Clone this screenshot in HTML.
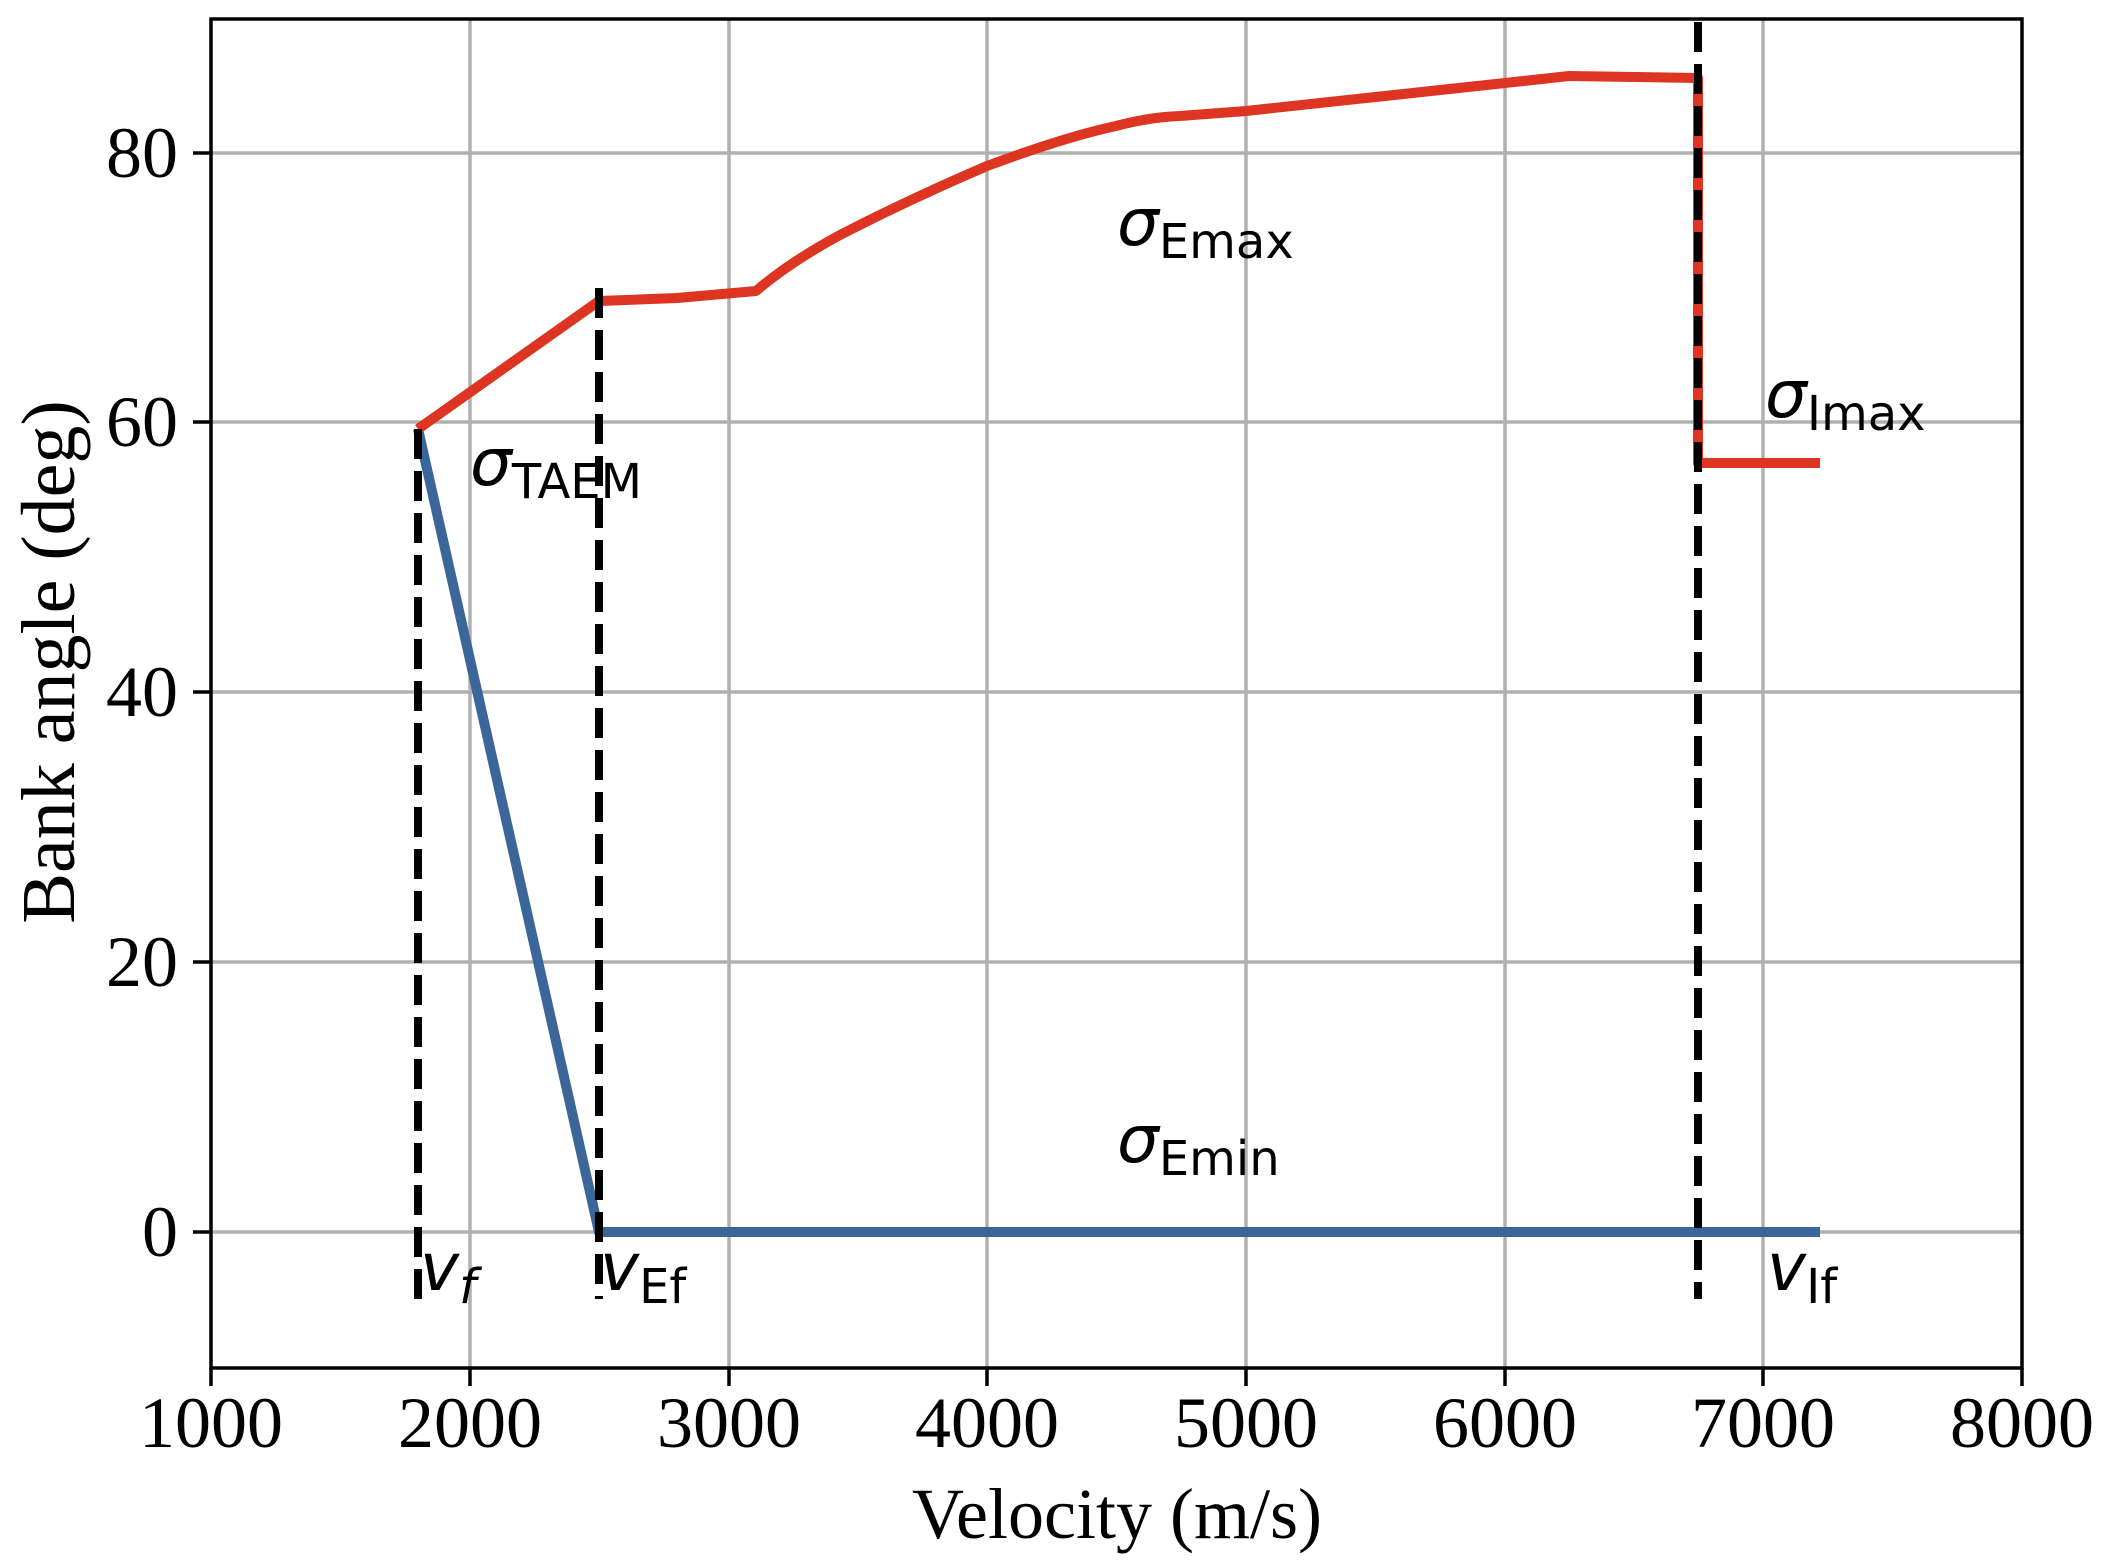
<!DOCTYPE html>
<html><head><meta charset="utf-8"><style>html,body{margin:0;padding:0;background:#fff}svg{display:block}</style></head>
<body>
<svg width="2105" height="1560" viewBox="0 0 2105 1560" xmlns="http://www.w3.org/2000/svg">
<rect width="2105" height="1560" fill="#fff"/>
<g stroke="#b0b0b0" stroke-width="3.5">
<line x1="470" y1="19" x2="470" y2="1368"/><line x1="729" y1="19" x2="729" y2="1368"/><line x1="987" y1="19" x2="987" y2="1368"/><line x1="1246" y1="19" x2="1246" y2="1368"/><line x1="1505" y1="19" x2="1505" y2="1368"/><line x1="1763" y1="19" x2="1763" y2="1368"/>
<line x1="211" y1="1232" x2="2022" y2="1232"/><line x1="211" y1="962" x2="2022" y2="962"/><line x1="211" y1="692" x2="2022" y2="692"/><line x1="211" y1="422" x2="2022" y2="422"/><line x1="211" y1="153" x2="2022" y2="153"/>
</g>
<polyline fill="none" stroke="#3a6699" stroke-width="10" stroke-linejoin="round" points="418,429 599,1232 1820,1232"/>
<path fill="none" stroke="#dd3522" stroke-width="10" stroke-linejoin="round" d="M418,429 L599,301 L677,298 L756,291 Q790,262 840,235 Q910,199 987,166 Q1065,137 1116,126 Q1150,117 1180,116 L1246,111 L1505,83 L1569,76 L1698,78 L1698,463 L1820,463"/>
<g stroke="#000" stroke-width="8" stroke-dasharray="30,12">
<line x1="418" y1="429" x2="418" y2="1299"/>
<line x1="599" y1="288" x2="599" y2="1299"/>
<line x1="1698" y1="22" x2="1698" y2="1299"/>
</g>
<rect x="211" y="19" width="1811" height="1349" fill="none" stroke="#000" stroke-width="3.5"/>
<g stroke="#000" stroke-width="3.5">
<line x1="211" y1="1368" x2="211" y2="1386"/><line x1="470" y1="1368" x2="470" y2="1386"/><line x1="729" y1="1368" x2="729" y2="1386"/><line x1="987" y1="1368" x2="987" y2="1386"/><line x1="1246" y1="1368" x2="1246" y2="1386"/><line x1="1505" y1="1368" x2="1505" y2="1386"/><line x1="1763" y1="1368" x2="1763" y2="1386"/><line x1="2022" y1="1368" x2="2022" y2="1386"/>
<line x1="193" y1="1232" x2="211" y2="1232"/><line x1="193" y1="962" x2="211" y2="962"/><line x1="193" y1="692" x2="211" y2="692"/><line x1="193" y1="422" x2="211" y2="422"/><line x1="193" y1="153" x2="211" y2="153"/>
</g>
<g font-family="Liberation Serif, serif" font-size="72" fill="#000">
<g text-anchor="middle">
<text x="211" y="1447">1000</text><text x="470" y="1447">2000</text><text x="729" y="1447">3000</text><text x="987" y="1447">4000</text><text x="1246" y="1447">5000</text><text x="1505" y="1447">6000</text><text x="1763" y="1447">7000</text><text x="2022" y="1447">8000</text>
<text x="1117" y="1538">Velocity (m/s)</text>
<text transform="translate(74,662) rotate(-90)" font-size="76">Bank angle (deg)</text>
</g>
<g text-anchor="end">
<text x="178" y="1256">0</text><text x="178" y="986">20</text><text x="178" y="716">40</text><text x="178" y="446">60</text><text x="178" y="177">80</text>
</g>
</g>
<g font-family="DejaVu Sans, sans-serif" font-size="66" fill="#000">
<text x="1117" y="245"><tspan font-style="italic">σ</tspan><tspan font-size="48" dy="13">Emax</tspan></text>
<text x="1765" y="417"><tspan font-style="italic">σ</tspan><tspan font-size="48" dy="13">Imax</tspan></text>
<text x="470" y="485"><tspan font-style="italic">σ</tspan><tspan font-size="48" dy="13">TAEM</tspan></text>
<text x="1117" y="1162"><tspan font-style="italic">σ</tspan><tspan font-size="48" dy="13">Emin</tspan></text>
<text x="420" y="1290"><tspan font-style="italic">v</tspan><tspan font-size="48" dy="13" font-style="italic">f</tspan></text>
<text x="600" y="1290"><tspan font-style="italic">v</tspan><tspan font-size="48" dy="13">Ef</tspan></text>
<text x="1767" y="1290"><tspan font-style="italic">v</tspan><tspan font-size="48" dy="13">If</tspan></text>
</g>
</svg>
</body></html>
